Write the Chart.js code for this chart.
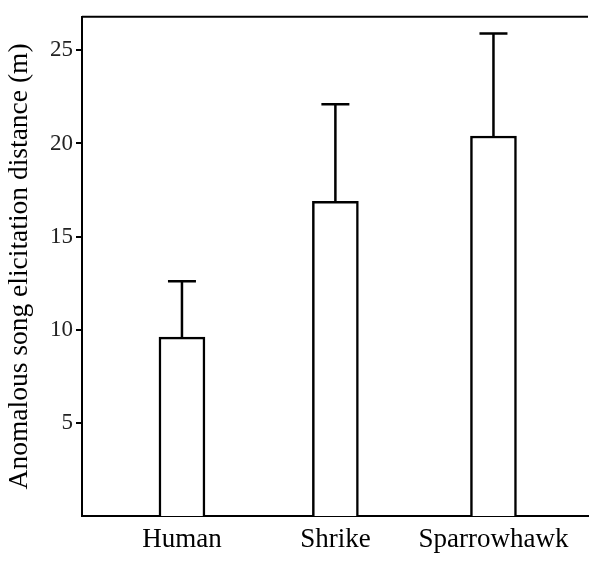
<!DOCTYPE html>
<html>
<head>
<meta charset="utf-8">
<script src="https://cdn.jsdelivr.net/npm/chart.js@4.4.1/dist/chart.umd.min.js"></script>
<style>
  body { margin: 0; background: #fff; }
</style>
</head>
<body>
<canvas id="song-chart" width="590" height="569"></canvas>
<script>
const categories = ["Human", "Shrike", "Sparrowhawk"];
const xPositions = [1, 1.99, 3.01];
const means = [9.6, 16.9, 20.4];
const errorTops = [12.6, 22.1, 25.9];
const yTicks = [5, 10, 15, 20, 25];

const serif = "'Liberation Serif', 'Times New Roman', serif";

// error bars drawn from errorTops
const errorBars = {
  id: "errorBars",
  afterDatasetsDraw(chart) {
    const ctx = chart.ctx;
    const x = chart.scales.x;
    const y = chart.scales.y;
    ctx.save();
    ctx.strokeStyle = "#000";
    ctx.lineWidth = 2.5;
    means.forEach((m, i) => {
      const px = x.getPixelForValue(xPositions[i]);
      const y0 = y.getPixelForValue(m);
      const y1 = y.getPixelForValue(errorTops[i]);
      ctx.beginPath();
      ctx.moveTo(px, y0);
      ctx.lineTo(px, y1);
      ctx.moveTo(px - 14, y1);
      ctx.lineTo(px + 14, y1);
      ctx.stroke();
    });
    ctx.restore();
  },
};

// top edge of the frame
const topBorder = {
  id: "topBorder",
  afterDraw(chart) {
    const { ctx, chartArea } = chart;
    ctx.save();
    ctx.strokeStyle = "#000";
    ctx.lineWidth = 2;
    ctx.beginPath();
    ctx.moveTo(chartArea.left, chartArea.top);
    ctx.lineTo(chartArea.right, chartArea.top);
    ctx.stroke();
    ctx.restore();
  },
};

new Chart(document.getElementById("song-chart"), {
  type: "bar",
  data: {
    datasets: [
      {
        data: means.map((m, i) => ({ x: xPositions[i], y: m })),
        backgroundColor: "#fff",
        borderColor: "#000",
        borderWidth: 2.5,
        barThickness: 46,
      },
    ],
  },
  options: {
    responsive: false,
    animation: false,
    layout: { padding: { top: 11, right: 2, left: 0, bottom: 0 } },
    plugins: { legend: { display: false }, tooltip: { enabled: false } },
    scales: {
      x: {
        type: "linear",
        offset: false,
        min: 0.355,
        max: 3.62,
        grid: { display: false },
        border: { display: true, color: "#000", width: 2 },
        afterBuildTicks: (axis) => {
          axis.ticks = xPositions.map((v) => ({ value: v }));
        },
        afterFit: (axis) => {
          axis.height = 53;
        },
        ticks: {
          padding: 0,
          color: "#000",
          font: { family: serif, size: 27 },
          callback: (v) => {
            const i = xPositions.indexOf(v);
            return i >= 0 ? categories[i] : "";
          },
        },
      },
      y: {
        min: 0,
        max: 26.8,
        grid: {
          drawOnChartArea: false,
          drawTicks: true,
          tickLength: 6,
          color: "#000",
          lineWidth: 2,
        },
        border: { display: true, color: "#000", width: 2 },
        afterBuildTicks: (axis) => {
          axis.ticks = yTicks.map((v) => ({ value: v }));
        },
        afterFit: (axis) => {
          axis.width = 82;
        },
        ticks: {
          padding: 3,
          color: "#222",
          font: { family: serif, size: 23 },
        },
        title: {
          display: true,
          text: "Anomalous song elicitation distance (m)",
          color: "#000",
          font: { family: serif, size: 27.5 },
          padding: { top: 3, bottom: 0 },
        },
      },
    },
  },
  plugins: [errorBars, topBorder],
});
</script>
</body>
</html>
